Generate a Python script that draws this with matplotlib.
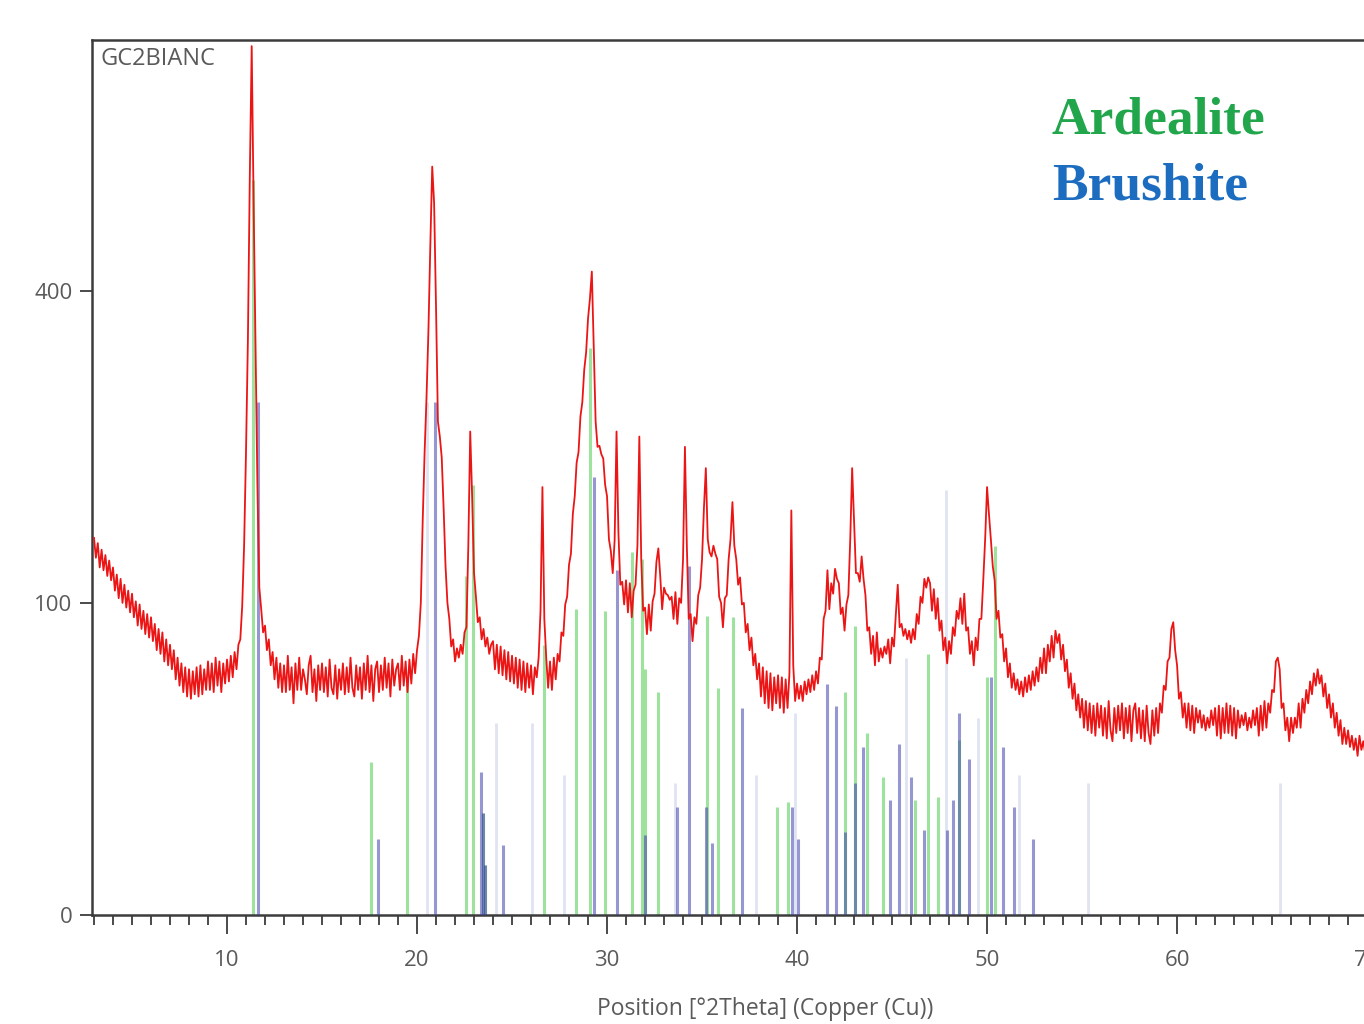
# XRD pattern of GC2BIANC with Ardealite / Brushite reference sticks.
import numpy as np
import matplotlib
matplotlib.use("Agg")
import matplotlib.pyplot as plt

# Measured counts, 0.1 deg steps starting at 3.0 deg 2Theta (one row per degree)
start_angle = 3.0
step = 0.1
counts = [
    146, 131, 142, 124, 137, 122, 133, 118, 129, 115,   # 3
    124, 108, 119, 103, 116, 100, 112, 97, 108, 94,     # 4
    106, 91, 101, 86, 99, 84, 95, 81, 93, 79,           # 5
    91, 77, 87, 72, 84, 70, 82, 66, 78, 64,             # 6
    75, 62, 72, 57, 68, 54, 65, 51, 63, 49,             # 7
    62, 48, 61, 50, 63, 49, 64, 50, 62, 52,             # 8
    66, 52, 65, 51, 68, 54, 66, 51, 65, 55,             # 9
    67, 56, 69, 58, 71, 62, 75, 78, 98, 140,            # 10
    220, 340, 560, 775, 520, 330, 190, 110, 96, 82,     # 11
    86, 72, 78, 64, 71, 57, 68, 53, 65, 51,             # 12
    64, 51, 69, 52, 63, 46, 65, 52, 68, 52,             # 13
    62, 57, 50, 64, 69, 51, 62, 47, 64, 52,             # 14
    65, 51, 63, 49, 67, 53, 50, 64, 48, 62,             # 15
    52, 65, 50, 63, 51, 68, 53, 49, 64, 52,             # 16
    63, 48, 65, 52, 69, 51, 64, 47, 62, 66,             # 17
    51, 64, 52, 68, 53, 65, 49, 67, 54, 62,             # 18
    65, 52, 69, 54, 66, 51, 67, 55, 70, 60,             # 19
    72, 80, 100, 160, 220, 275, 350, 460, 575, 520,     # 20
    380, 250, 235, 215, 170, 125, 100, 90, 74, 78,      # 21
    66, 73, 68, 75, 70, 82, 85, 140, 240, 180,          # 22
    120, 104, 88, 91, 78, 84, 74, 79, 70, 75,           # 23
    77, 62, 75, 60, 74, 59, 72, 57, 71, 56,             # 24
    69, 55, 68, 53, 67, 52, 66, 51, 65, 53,             # 25
    64, 50, 63, 58, 68, 95, 188, 90, 68, 53,            # 26
    66, 52, 68, 57, 70, 66, 82, 80, 99, 104,            # 27
    126, 134, 165, 180, 210, 220, 255, 270, 305, 325,   # 28
    365, 390, 425, 330, 250, 225, 226, 218, 214, 190,   # 29
    180, 145, 136, 120, 144, 240, 150, 112, 114, 99,    # 30
    115, 94, 113, 91, 108, 112, 140, 235, 130, 95,      # 31
    97, 81, 99, 83, 101, 106, 128, 138, 118, 96,        # 32
    110, 106, 105, 102, 104, 90, 107, 87, 103, 100,     # 33
    130, 225, 140, 90, 93, 77, 91, 87, 105, 110,        # 34
    130, 170, 205, 145, 135, 132, 140, 134, 130, 104,   # 35
    100, 85, 103, 105, 130, 145, 175, 140, 130, 112,    # 36
    117, 99, 100, 82, 87, 72, 79, 64, 70, 57,           # 37
    65, 49, 63, 46, 61, 44, 60, 43, 58, 46,             # 38
    59, 44, 58, 42, 57, 44, 60, 168, 64, 47,            # 39
    55, 48, 54, 47, 56, 50, 57, 51, 59, 52,             # 40
    61, 55, 68, 67, 90, 95, 122, 96, 113, 106,          # 41
    123, 116, 113, 93, 97, 83, 99, 105, 145, 205,       # 42
    160, 120, 120, 114, 132, 116, 105, 83, 85, 70,      # 43
    80, 64, 82, 66, 73, 68, 74, 70, 78, 65,             # 44
    79, 74, 93, 112, 85, 87, 80, 84, 78, 83,            # 45
    76, 84, 78, 93, 87, 104, 100, 116, 110, 117,        # 46
    113, 95, 109, 90, 103, 83, 89, 72, 79, 65,          # 47
    77, 70, 85, 80, 95, 90, 103, 87, 106, 83,           # 48
    85, 70, 77, 64, 79, 72, 90, 90, 115, 145,           # 49
    188, 165, 145, 125, 115, 90, 95, 79, 81, 66,        # 50
    73, 58, 65, 53, 60, 52, 57, 50, 56, 49,             # 51
    58, 51, 59, 52, 61, 54, 63, 56, 68, 60,             # 52
    73, 60, 75, 66, 80, 68, 83, 76, 81, 67,             # 53
    75, 61, 67, 53, 60, 48, 55, 43, 50, 40,             # 54
    48, 36, 47, 35, 46, 34, 45, 33, 46, 36,             # 55
    45, 33, 44, 32, 47, 35, 31, 44, 34, 45,             # 56
    35, 46, 32, 44, 34, 45, 31, 43, 46, 34,             # 57
    44, 32, 43, 31, 45, 34, 30, 43, 33, 44,             # 58
    34, 46, 42, 54, 52, 66, 68, 84, 88, 72,             # 59
    64, 48, 51, 40, 46, 36, 46, 35, 45, 34,             # 60
    44, 38, 43, 36, 41, 35, 40, 36, 43, 37,             # 61
    44, 33, 45, 32, 44, 34, 46, 34, 45, 33,             # 62
    44, 32, 43, 36, 41, 37, 42, 35, 40, 36,             # 63
    43, 37, 44, 33, 45, 35, 47, 36, 46, 42,             # 64
    52, 51, 66, 68, 62, 44, 46, 35, 40, 31,             # 65
    40, 34, 40, 36, 46, 36, 48, 42, 52, 46,             # 66
    56, 50, 60, 54, 62, 55, 59, 49, 55, 44,             # 67
    50, 40, 46, 36, 42, 33, 39, 30, 36, 30,             # 68
    35, 29, 33, 28, 32, 26, 33, 28, 31, 27,             # 69
    33, 28, 31, 27, 33, 26, 32, 25, 32, 27,             # 70
]
assert len(counts) == 680

# Reference pattern: Ardealite (green sticks)
ardealite_pos = [11.37, 17.6, 19.47, 22.6, 22.95, 23.45, 23.6, 26.7, 28.35,
                 29.1, 29.9, 31.3, 31.85, 32.0, 32.7, 35.26, 35.85, 36.63,
                 38.95, 39.5, 42.5, 43.05, 43.7, 44.5, 46.2, 46.9, 47.4,
                 48.5, 50.0, 50.4]
ardealite_int = [555, 24, 55, 118, 190, 10.7, 2.6, 75, 96,
                 330, 95, 135, 130, 62, 51, 92, 53, 91,
                 12, 13, 51, 86, 34, 19.6, 13.6, 70, 14.3,
                 31.5, 58, 140]

# Reference pattern: Brushite (blue sticks)
brushite_pos = [11.62, 17.95, 20.95, 23.35, 23.45, 23.6, 24.5, 29.3, 30.5,
                32.0, 33.7, 34.3, 35.2, 35.5, 37.1, 39.74, 40.05, 41.58,
                42.03, 42.5, 43.05, 43.47, 44.9, 45.37, 46.0, 46.7, 47.9,
                48.2, 48.5, 49.05, 50.2, 50.85, 51.4, 52.4]
brushite_int = [270, 6, 270, 21, 10.7, 2.6, 5, 197, 122,
                6.5, 12, 125, 12, 5.3, 44, 12, 6, 55,
                45, 7, 18, 29, 13.6, 30, 19.6, 7.4, 7.4,
                13.6, 42, 25, 58, 29, 12, 6]

# Faint sticks of a further reference pattern
faint_pos = [20.5, 24.15, 26.05, 27.74, 33.6, 37.85, 39.9, 45.75, 47.84,
             49.5, 51.7, 55.3, 65.4]
faint_int = [270, 38, 38, 20, 18, 20, 42, 68, 185,
             40, 20, 18, 18]

sample_name = "GC2BIANC"

two_theta = start_angle + step * np.arange(len(counts))

fig = plt.figure(figsize=(13.64, 10.24), dpi=100)
ax = fig.add_axes([92 / 1364, 109 / 1024, 1288 / 1364, 875 / 1024])

# square-root intensity axis
ax.set_yscale("function", functions=(lambda v: np.sqrt(np.clip(v, 0, None)),
                                     lambda v: np.square(v)))
ax.set_xlim(2.895, 70.68)
ax.set_ylim(0, 786)

ax.vlines(faint_pos, 0, faint_int, colors="#dfe3f2", linewidth=2.0, zorder=1)
ax.vlines(ardealite_pos, 0, ardealite_int, colors="#3cc83c", alpha=0.5,
          linewidth=2.2, zorder=2)
ax.vlines(brushite_pos, 0, brushite_int, colors="#4040b0", alpha=0.55,
          linewidth=2.2, zorder=3)
ax.plot(two_theta, counts, color="#ec1515", linewidth=1.3, zorder=4)

# axes styling
for side in ["left", "top", "bottom"]:
    ax.spines[side].set_color("#3c3c3c")
    ax.spines[side].set_linewidth(1.8)
ax.spines["right"].set_visible(False)

ax.set_yticks([0, 100, 400])
ax.set_yticklabels(["0", "100", "400"])
ax.set_xticks(range(10, 71, 10))
ax.set_xticks(range(3, 71), minor=True)
ax.tick_params(axis="both", which="major", direction="out", color="#3c3c3c",
               labelcolor="#5a5a5a", labelsize=16, width=1.3)
ax.tick_params(axis="x", which="major", length=14, pad=11)
ax.tick_params(axis="y", which="major", length=9, pad=5)
ax.tick_params(axis="x", which="minor", length=7, width=1.3, color="#3c3c3c")
ax.tick_params(axis="y", which="minor", left=False)
for lab in ax.get_xticklabels() + ax.get_yticklabels():
    lab.set_family("Open Sans")

ax.set_xlabel("Position [\u00b02Theta] (Copper (Cu))", fontsize=16.5,
              color="#5a5a5a", family="Open Sans")
ax.xaxis.set_label_coords((765 - 92) / 1288, -(997 - 915) / 875)

ax.text(8 / 1288, 1 - 19 / 875, sample_name, transform=ax.transAxes,
        fontsize=17, color="#5a5a5a", family="Open Sans", va="center", ha="left")

fig.text(1052 / 1364, 1 - 121 / 1024, "Ardealite", color="#22a64c",
         fontsize=38.5, fontweight="bold", family="Liberation Serif",
         va="center", ha="left")
fig.text(1052 / 1364, 1 - 186 / 1024, "Brushite", color="#1c6cbf",
         fontsize=38.5, fontweight="bold", family="Liberation Serif",
         va="center", ha="left")

fig.savefig("out.png", dpi=100)
